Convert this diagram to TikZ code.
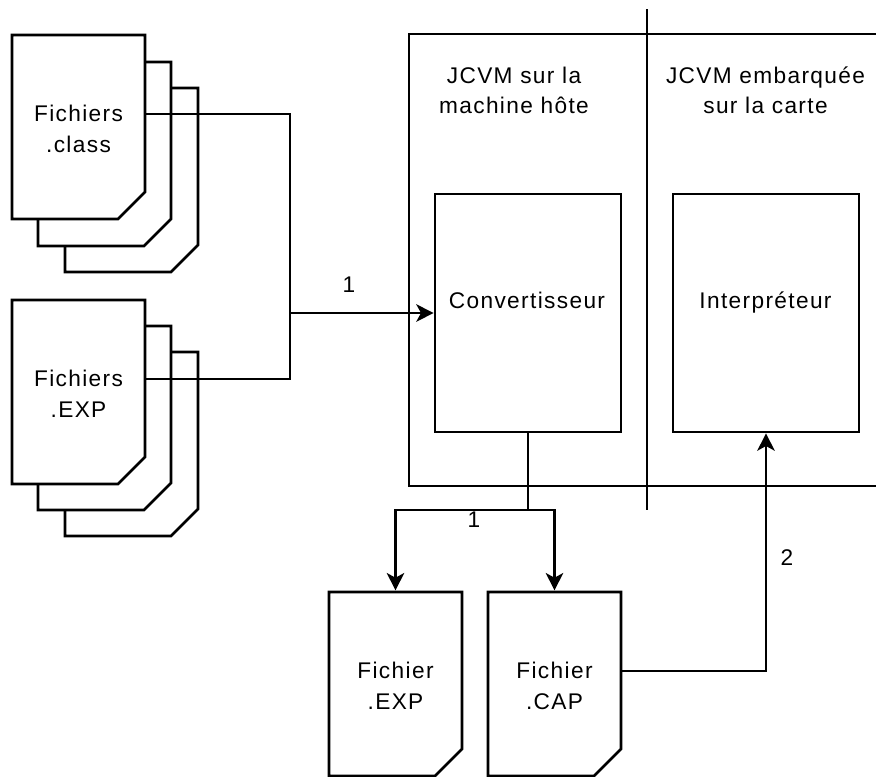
\documentclass[tikz,border=0pt]{standalone}
\usepackage{fontspec}
\setmainfont{Liberation Sans}[LetterSpace=6]
\usetikzlibrary{arrows.meta,calc}

% A page with a folded bottom-right corner; #1 name, #2 left, #3 top, #4 text
\newcommand\docpage[4]{%
  \draw[wire, fill=white] (#2,#3) -- ++(133,0) -- ++(0,157) -- ++(-27,27) -- ++(-106,0) -- cycle;
  \node[doctext] (#1) at ({#2+66.5},{#3+94}) {#4};
}
% A blank page behind the front one of a stack
\newcommand\backpage[2]{%
  \draw[wire, fill=white] (#1,#2) -- ++(133,0) -- ++(0,157) -- ++(-27,27) -- ++(-106,0) -- cycle;
}

\begin{document}
\begin{tikzpicture}[x=0.75pt,y=-0.75pt,
  wire/.style={line width=2pt, line join=miter},
  arrowed/.style={wire, -{Stealth[length=13pt,width=13pt,inset=3.5pt]}},
  txt/.style={font=\fontsize{17}{22.9}\selectfont, inner sep=0pt, align=center},
  doctext/.style={txt, minimum width=99.75pt, minimum height=138pt},
  procbox/.style={draw, line width=2pt, minimum width=139.5pt, minimum height=178.5pt, inner sep=0pt},
  numtext/.style={font=\fontsize{17}{20}\selectfont, inner sep=0pt, anchor=base},
]
\clip (0,0) rectangle (876,776);
\fill[white] (0,0) rectangle (876,776);

% host / card frame and the separator between them
\draw[wire] (880,34) -- (409,34) -- (409,486) -- (880,486);
\draw[wire] (647,9) -- (647,510);

\node[txt, anchor=north] (hosthdr) at (514,66.5) {JCVM sur la\\machine hôte};
\node[txt, anchor=north] (cardhdr) at (765.5,66.5) {JCVM embarquée\\sur la carte};

% processing blocks
\node[procbox] (conv) at (528,313) {};
\node[txt, anchor=base] (convtxt) at (527,308) {Convertisseur};
\node[procbox] (interp) at (766,313) {};
\node[txt, anchor=base] (interptxt) at (765.5,308) {Interpréteur};

% stack of .class files
\backpage{65}{88}
\backpage{38}{62}
\docpage{cls}{12}{35}{Fichiers\\.class}

% stack of .EXP files
\backpage{65}{352}
\backpage{38}{326}
\docpage{exps}{12}{300}{Fichiers\\.EXP}

% generated files
\docpage{fexp}{329}{592}{Fichier\\.EXP}
\docpage{fcap}{488}{592}{Fichier\\.CAP}

% step 1: input files into the converter
\coordinate (bus) at (290,313);
\draw[wire] ([yshift=11.25pt]cls.east) -| (bus) |- ([yshift=11.25pt]exps.east);
\draw[arrowed] (bus) -- (conv.west);
\node[numtext] (n1) at (349,292) {1};

% step 1: converter output
\coordinate (split) at (528,510);
\draw[wire] (conv.south) -- (split);
\draw[arrowed, shorten >=2.5pt] (split) -| (fexp.north);
\draw[arrowed, shorten >=2.5pt] (split) -| (fcap.north);
\node[numtext] (n1b) at (474,527) {1};

% step 2: CAP file loaded onto the card
\draw[arrowed] ([yshift=11.25pt]fcap.east) -| (interp.south);
\node[numtext] (n2) at (787,565) {2};
\end{tikzpicture}
\end{document}
